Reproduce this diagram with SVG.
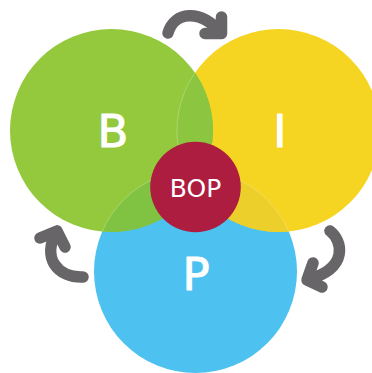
<svg xmlns="http://www.w3.org/2000/svg" width="372" height="373" viewBox="0 0 372 373">
<style>
.big{font-family:"DejaVu Sans","Liberation Sans",sans-serif;font-size:45px;font-weight:400;fill:#fff;stroke:#fff;stroke-width:1;stroke-linejoin:round;text-anchor:middle}
.small{font-family:"DejaVu Sans","Liberation Sans",sans-serif;font-size:25px;font-weight:400;fill:#fff;text-anchor:middle}
.edge{fill:none;stroke:#fff;stroke-opacity:.35;stroke-width:.7}
.arrow{fill:none;stroke:#676567;stroke-width:11.5;stroke-linecap:round;stroke-linejoin:round}
</style>
<defs>
<clipPath id="cg"><circle cx="111.5" cy="130.5" r="101.5"/></clipPath>
<clipPath id="cy"><circle cx="278.5" cy="130.5" r="101.5"/></clipPath>
</defs>
<g id="node-P"><circle cx="195.5" cy="271.5" r="101.5" fill="#4DC1F0"/><text class="big" x="196" y="290">P</text></g>
<g id="node-I"><circle cx="278.5" cy="130.5" r="101.5" fill="#F5D521"/><text class="big" x="280" y="147">I</text></g>
<g id="node-B"><circle cx="111.5" cy="130.5" r="101.5" fill="#95C93D"/><text class="big" x="113" y="147">B</text></g>
<g id="overlaps">
<circle cx="278.5" cy="130.5" r="101.5" fill="#8CC640" clip-path="url(#cg)"/>
<circle cx="195.5" cy="271.5" r="101.5" fill="#80C343" clip-path="url(#cg)"/>
<circle cx="195.5" cy="271.5" r="101.5" fill="#ECCF2A" clip-path="url(#cy)"/>
<circle class="edge" cx="278.5" cy="130.5" r="101.5" clip-path="url(#cg)"/>
<circle class="edge" cx="195.5" cy="271.5" r="101.5" clip-path="url(#cg)"/>
<circle class="edge" cx="195.5" cy="271.5" r="101.5" clip-path="url(#cy)"/>
</g>
<g id="node-BOP"><circle cx="195.5" cy="187" r="45.3" fill="#AD1D3F"/><text class="small" x="195.5" y="197">BOP</text></g>
<g id="connectors">
<path class="arrow" d="M168 33C174 12 200 8 221.500 33.500M221.500 17V33.500H205"/>
<path class="arrow" d="M83 277C58 278 41 258 57 231M40 238L57 231L65 247"/>
<path class="arrow" d="M330 231C342 240 350 268 307 280M313 263L307 280L322 287"/>
</g>
</svg>
